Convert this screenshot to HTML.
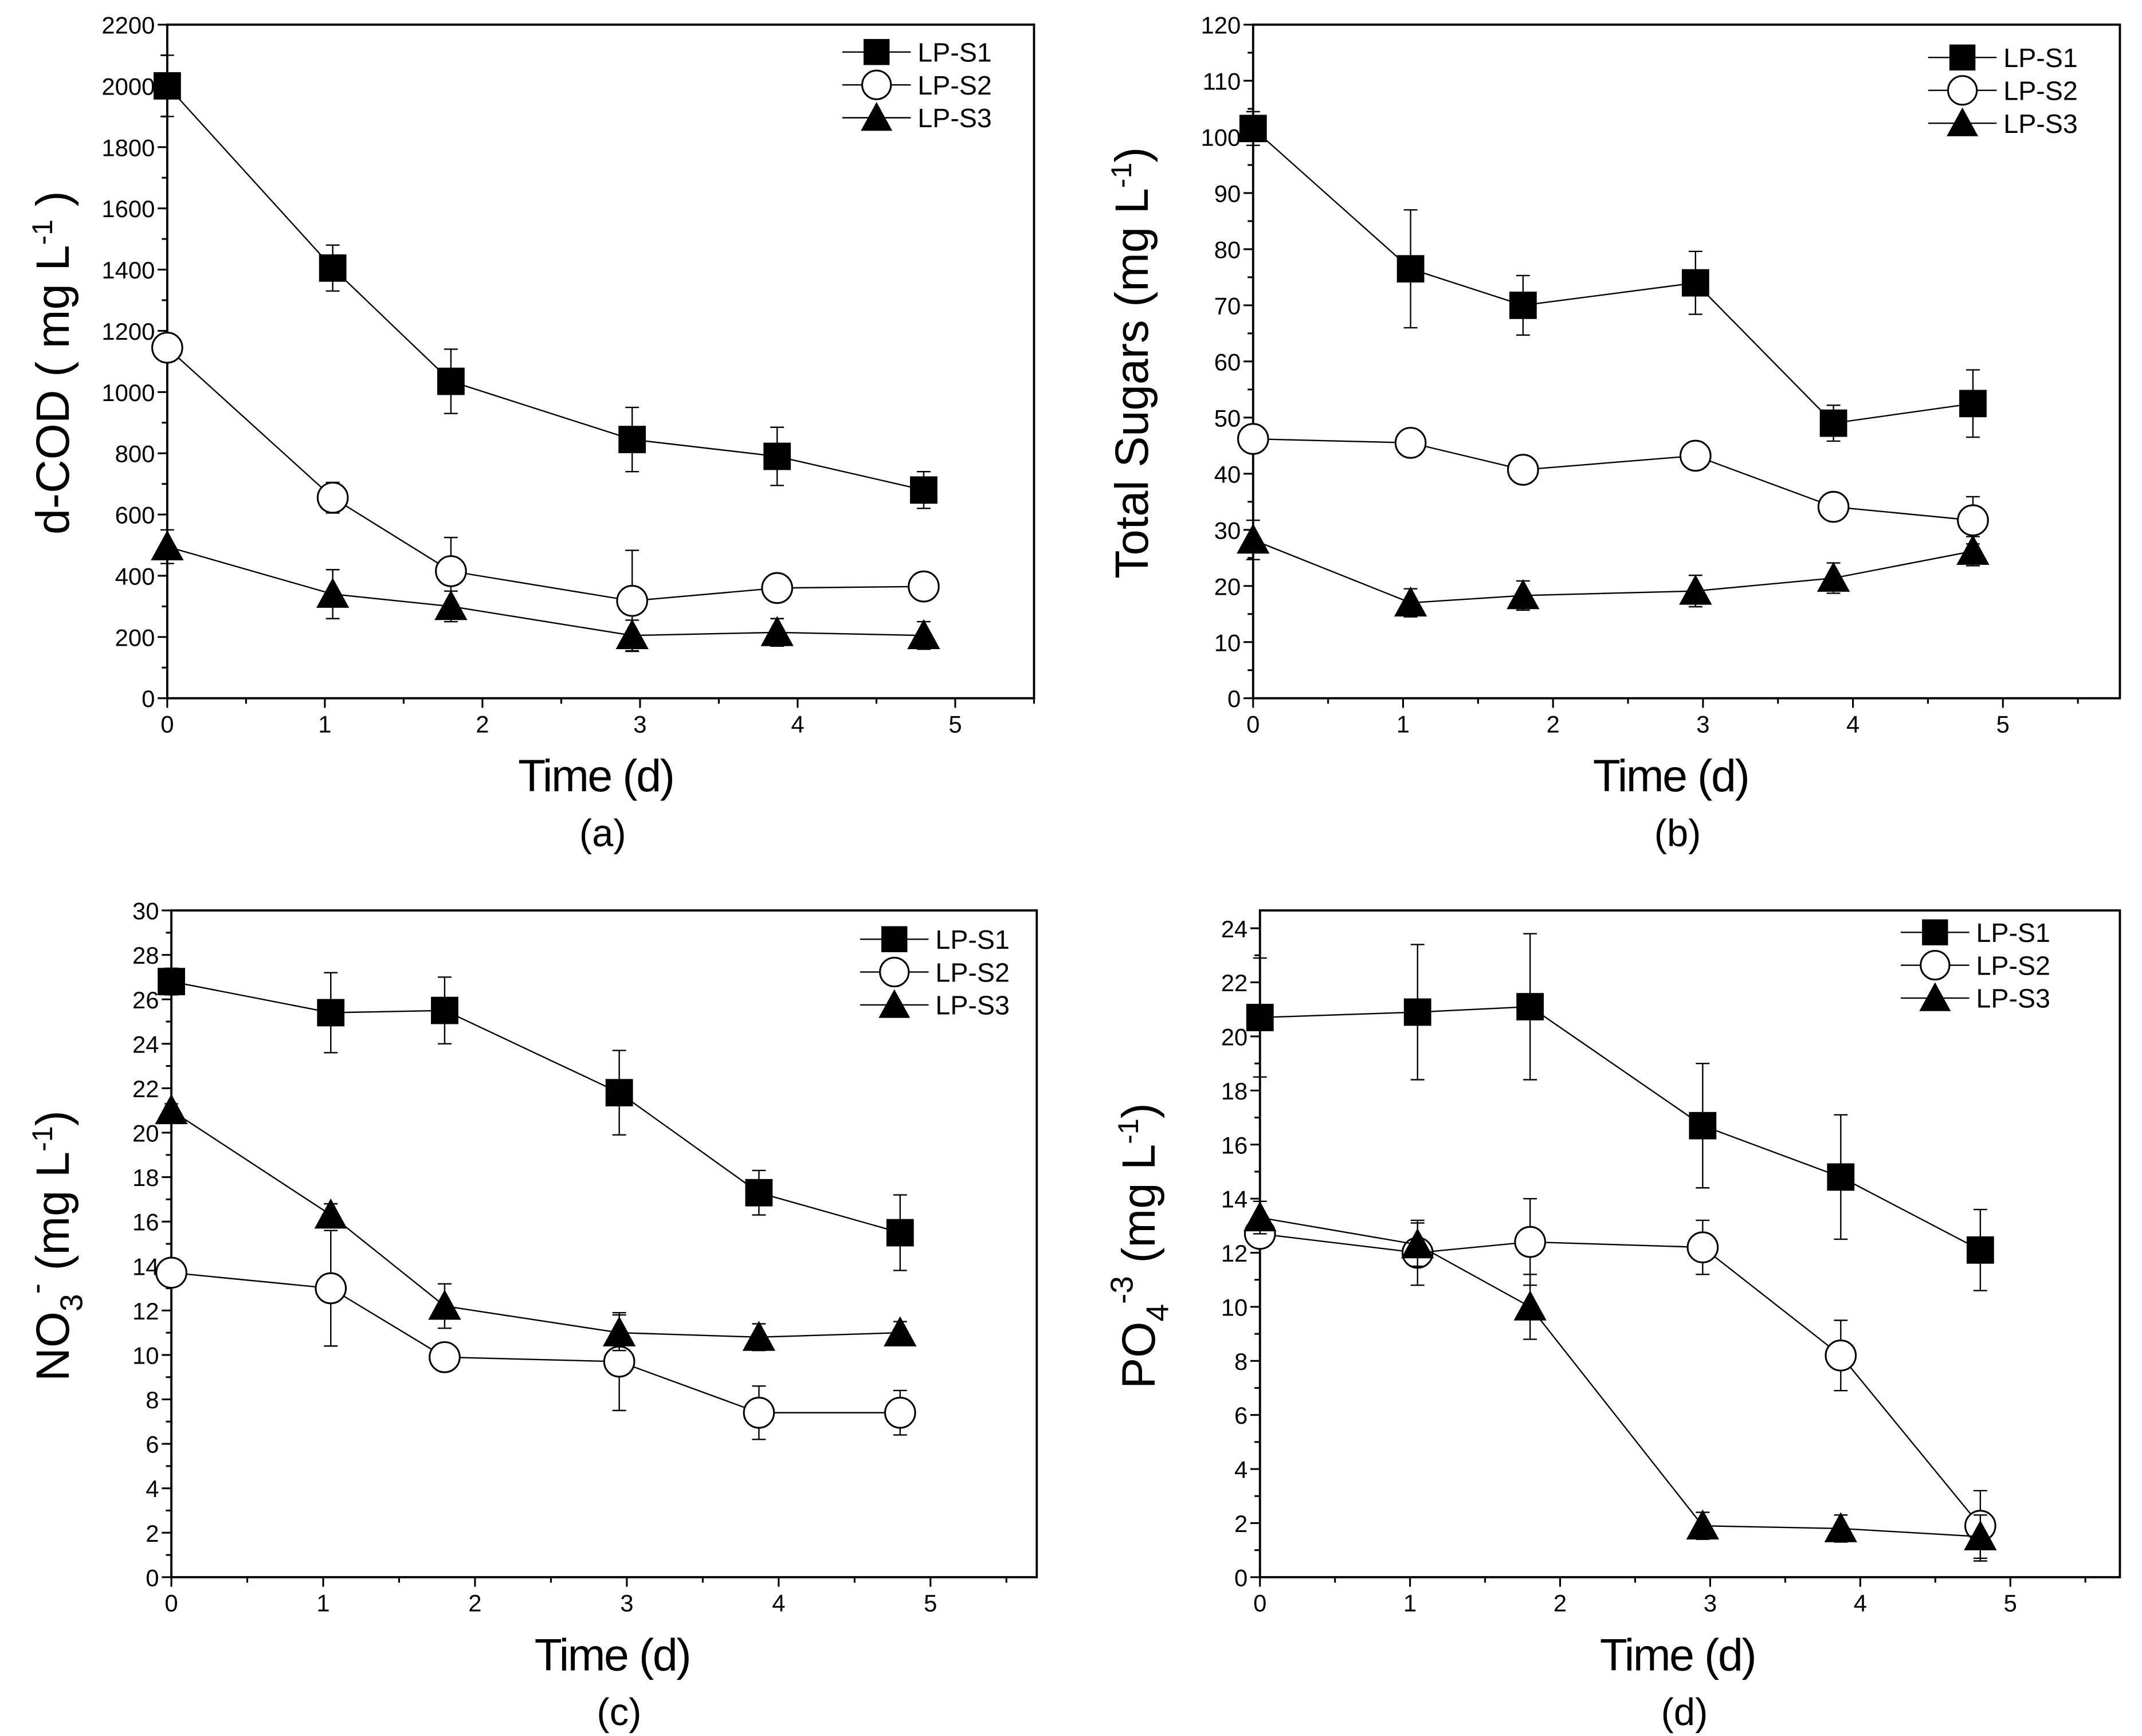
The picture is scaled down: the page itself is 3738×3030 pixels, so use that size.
<!DOCTYPE html>
<html><head><meta charset="utf-8">
<style>
html,body{margin:0;padding:0;background:#fff;}
svg{display:block;}
text{font-family:"Liberation Sans",Arial,sans-serif;fill:#000;}
</style></head>
<body>
<svg id="fig" xmlns="http://www.w3.org/2000/svg" width="3738" height="3030" viewBox="0 0 1564 1268">
<rect width="1564" height="1268" fill="#fff"/>
</svg>
<script>
const days = [0, 1.05, 1.8, 2.95, 3.87, 4.8];
const seriesNames = ["LP-S1", "LP-S2", "LP-S3"];
const codS1 = [2000, 1405, 1035, 845, 790, 680];
const codS1Err = [100, 75, 105, 105, 95, 60];
const codS2 = [1145, 655, 415, 318, 360, 365];
const codS2Err = [0, 50, 110, 165, 40, 45];
const codS3 = [495, 340, 300, 205, 215, 205];
const codS3Err = [55, 80, 50, 50, 45, 45];
const sugS1 = [101.5, 76.5, 70, 74, 49, 52.5];
const sugS1Err = [3, 10.5, 5.3, 5.6, 3.2, 6];
const sugS2 = [46.2, 45.5, 40.7, 43.2, 34.1, 31.7];
const sugS2Err = [1.5, 0.5, 1.5, 2.3, 1.8, 4.2];
const sugS3 = [28.2, 17, 18.3, 19.1, 21.4, 26.2];
const sugS3Err = [3.5, 2.5, 2.6, 2.8, 2.7, 2.6];
const no3S1 = [26.8, 25.4, 25.5, 21.8, 17.3, 15.5];
const no3S1Err = [0.6, 1.8, 1.5, 1.9, 1.0, 1.7];
const no3S2 = [13.7, 13.0, 9.9, 9.7, 7.4, 7.4];
const no3S2Err = [0.3, 2.6, 0.3, 2.2, 1.2, 1.0];
const no3S3 = [21.0, 16.3, 12.2, 11.0, 10.8, 11.0];
const no3S3Err = [0.3, 0.5, 1.0, 0.8, 0.6, 0.5];
const po4S1 = [20.7, 20.9, 21.1, 16.7, 14.8, 12.1];
const po4S1Err = [2.2, 2.5, 2.7, 2.3, 2.3, 1.5];
const po4S2 = [12.7, 12.0, 12.4, 12.2, 8.2, 1.9];
const po4S2Err = [0.3, 1.2, 1.6, 1.0, 1.3, 1.3];
const po4S3 = [13.3, 12.3, 10.0, 1.9, 1.8, 1.5];
const po4S3Err = [0.6, 0.8, 1.2, 0.5, 0.5, 0.8];
const xTicks = [0, 1, 2, 3, 4, 5];
const codTicks = [0,200,400,600,800,1000,1200,1400,1600,1800,2000,2200];
const sugTicks = [0,10,20,30,40,50,60,70,80,90,100,110,120];
const no3Ticks = [0,2,4,6,8,10,12,14,16,18,20,22,24,26,28,30];
const po4Ticks = [0,2,4,6,8,10,12,14,16,18,20,22,24];

const NS = "http://www.w3.org/2000/svg";
const svg = document.getElementById('fig');
function mk(tag, attrs, parent){
  const e = document.createElementNS(NS, tag);
  for (const k in attrs) e.setAttribute(k, attrs[k]);
  (parent||svg).appendChild(e); return e;
}
function marker(g, type, cx, cy, s){
  let m;
  if (type===0) m = mk('rect',{x:cx-s,y:cy-s,width:2*s,height:2*s,fill:'#000'},g);
  else if (type===1) m = mk('circle',{cx:cx,cy:cy,r:s+1,fill:'#fff',stroke:'#000','stroke-width':1.3},g);
  else m = mk('polygon',{points:`${cx},${cy-s-2} ${cx-s-2},${cy+s} ${cx+s+2},${cy+s}`,fill:'#000'},g);
  return m;
}
function panel(p){
  const g = mk('g',{});
  
  
  const X = v => p.L + (v - 0) / p.xmax * (p.R - p.L);
  const Y = v => p.B - v / p.ymax * (p.B - p.T);
  const fr = mk('rect',{x:p.L,y:p.T,width:p.R-p.L,height:p.B-p.T,fill:'none',stroke:'#000','stroke-width':1.6},g);
  
  
  for (let i=0;i<=Math.floor(p.xmax*2);i++){
    const v=i/2, x=X(v), major=(i%2===0);
    mk('line',{x1:x,y1:p.B,x2:x,y2:p.B+(major?7:4),stroke:'#000','stroke-width':1.3},g);
  }
  xTicks.forEach(v=>{
    const t=mk('text',{x:X(v),y:p.B+25,'font-size':17.5,'text-anchor':'middle'},g);
    t.textContent=v;
    
    
  });
  const step = p.yt[1]-p.yt[0];
  p.yt.forEach((v,i)=>{
    const y=Y(v);
    mk('line',{x1:p.L-7,y1:y,x2:p.L,y2:y,stroke:'#000','stroke-width':1.3},g);
    const ym=Y(v+step/2);
    if (ym>=p.T-1) mk('line',{x1:p.L-4,y1:ym,x2:p.L,y2:ym,stroke:'#000','stroke-width':1.3},g);
    const t=mk('text',{x:p.L-9,y:y+6.5,'font-size':17.5,'text-anchor':'end'},g);
    t.textContent=v;
    
    
  });
  const xt=mk('text',{x:p.xtx,y:p.B+68,'font-size':33,'text-anchor':'middle','letter-spacing':'-1'},g);
  xt.textContent='Time (d)';
  
  
  const lb=mk('text',{x:p.xtx+5,y:p.B+108,'font-size':28,'text-anchor':'middle'},g);
  lb.textContent=p.letter;
  
  
  const yt=mk('text',{transform:`translate(${p.ytx},${p.yty}) rotate(-90)`,'font-size':34,'text-anchor':'middle'},g);
  yt.innerHTML=p.ytitle;
  
  
  p.series.forEach((s,si)=>{
    const sg=mk('g',{},g);
    
    
    const pts=days.map((d,i)=>`${X(d)},${Y(s.v[i])}`).join(' ');
    mk('polyline',{points:pts,fill:'none',stroke:'#000','stroke-width':1},sg);
    days.forEach((d,i)=>{
      const x=X(d), e=s.e[i];
      if (e>0){
        const y1=Y(s.v[i]+e), y2=Y(s.v[i]-e);
        mk('line',{x1:x,y1:y1,x2:x,y2:y2,stroke:'#000','stroke-width':1},sg);
        mk('line',{x1:x-5,y1:y1,x2:x+5,y2:y1,stroke:'#000','stroke-width':1},sg);
        mk('line',{x1:x-5,y1:y2,x2:x+5,y2:y2,stroke:'#000','stroke-width':1},sg);
      }
      const m=marker(sg,si,x,Y(s.v[i]),10);
      
      
    });
  });
  seriesNames.forEach((n,i)=>{
    const lg=mk('g',{},g);
    
    
    const ly=p.T+p.legY+i*24, lx=p.legX;
    mk('line',{x1:lx,y1:ly,x2:lx+50,y2:ly,stroke:'#000','stroke-width':1},lg);
    marker(lg,i,lx+25,ly,9.5);
    const t=mk('text',{x:lx+55,y:ly+7,'font-size':19.5},lg);
    t.textContent=n;
  });
}
panel({name:'panel-a-dcod',letter:'(a)',L:122,R:755,T:18,B:510,xmax:5.5,ymax:2200,yt:codTicks,
  series:[{v:codS1,e:codS1Err},{v:codS2,e:codS2Err},{v:codS3,e:codS3Err}],
  xtx:435,ytx:50,yty:265,ytitle:'d-COD ( mg L<tspan dy="-12" font-size="21">-1</tspan><tspan dy="12"> )</tspan>',legX:615,legY:20});
panel({name:'panel-b-sugars',letter:'(b)',L:915,R:1548,T:18,B:510,xmax:5.78,ymax:120,yt:sugTicks,
  series:[{v:sugS1,e:sugS1Err},{v:sugS2,e:sugS2Err},{v:sugS3,e:sugS3Err}],
  xtx:1220,ytx:838,yty:265,ytitle:'Total Sugars  (mg L<tspan dy="-12" font-size="21">-1</tspan><tspan dy="12">)</tspan>',legX:1408,legY:24});
panel({name:'panel-c-nitrate',letter:'(c)',L:125,R:757,T:665,B:1152,xmax:5.7,ymax:30,yt:no3Ticks,
  series:[{v:no3S1,e:no3S1Err},{v:no3S2,e:no3S2Err},{v:no3S3,e:no3S3Err}],
  xtx:447,ytx:50,yty:910,ytitle:'NO<tspan dy="10" font-size="23">3</tspan><tspan dy="-26" font-size="23">-</tspan><tspan dy="16">  (mg L</tspan><tspan dy="-12" font-size="21">-1</tspan><tspan dy="12">)</tspan>',legX:628,legY:21});
panel({name:'panel-d-phosphate',letter:'(d)',L:920,R:1548,T:665,B:1152,xmax:5.73,ymax:24.66,yt:po4Ticks,
  series:[{v:po4S1,e:po4S1Err},{v:po4S2,e:po4S2Err},{v:po4S3,e:po4S3Err}],
  xtx:1225,ytx:843,yty:910,ytitle:'PO<tspan dy="10" font-size="23">4</tspan><tspan dy="-26" font-size="23">-3</tspan><tspan dy="16">  (mg L</tspan><tspan dy="-12" font-size="21">-1</tspan><tspan dy="12">)</tspan>',legX:1388,legY:16});
</script>
</body></html>
